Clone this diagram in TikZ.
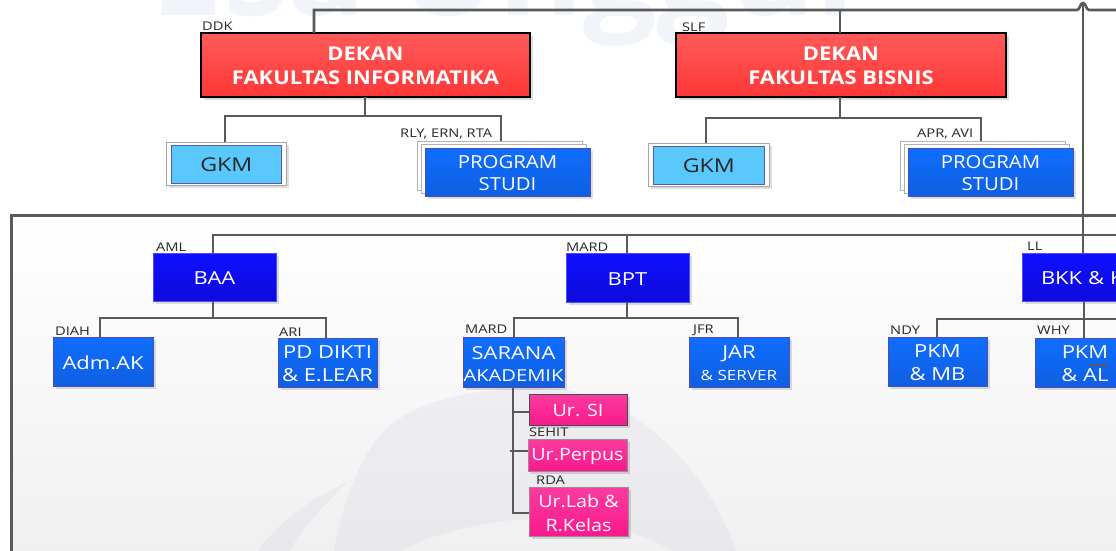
\documentclass[tikz,border=0pt]{standalone}
\usepackage{fontspec}
\setmainfont{Open Sans}
\newfontfamily\stA[FakeStretch=1.13]{Open Sans}
\newfontfamily\stB[FakeStretch=1.22]{Open Sans}
\newfontfamily\stP[FakeStretch=1.16]{Open Sans}
\newfontfamily\stT[FakeStretch=1.22]{Open Sans}
\newfontfamily\stR[FakeStretch=1.155]{Open Sans}
\usetikzlibrary{shadows,calc}
\definecolor{wire}{HTML}{595959}
\definecolor{pale}{HTML}{F1F4F8}
\tikzset{
  x=1pt,y=-1pt,
  wirelink/.style={draw=wire,line width=2.8pt,line join=miter},
  thinlink/.style={draw=wire,line width=2.6pt},
  softshadow/.style={drop shadow={shadow xshift=3pt,shadow yshift=-3pt,fill=black,opacity=.13}},
  basebox/.style={anchor=north west,inner sep=0pt,outer sep=0pt,align=center,text=white,softshadow,
    minimum width=#1},
  redbox/.style={draw=black,line width=1.4pt,top color={rgb,255:red,255;green,90;blue,90},bottom color={rgb,255:red,255;green,55;blue,55},
    font=\fontsize{19}{24}\selectfont\stR\bfseries},
  navybox/.style={draw=blue!70!white,line width=.4pt,top color={rgb,255:red,15;green,15;blue,255},bottom color={rgb,255:red,15;green,10;blue,220},
    font=\fontsize{18}{22}\selectfont\stB},
  bluebox/.style={draw=blue!40!gray,line width=.6pt,top color={rgb,255:red,15;green,110;blue,255},bottom color={rgb,255:red,15;green,95;blue,225},
    font=\fontsize{18}{23}\selectfont\stB},
  progbox/.style={bluebox,font=\fontsize{18}{22}\selectfont\stA},
  pinkbox/.style={draw=gray!80!magenta,line width=.6pt,top color={rgb,255:red,250;green,60;blue,160},bottom color={rgb,255:red,250;green,25;blue,140},
    font=\fontsize{17}{24}\selectfont\stP},
  gkmouter/.style={draw=gray!70,line width=.7pt,fill=white,softshadow},
  gkminner/.style={draw=gray!70!blue,line width=.6pt,top color={rgb,255:red,90;green,200;blue,250},bottom color={rgb,255:red,90;green,200;blue,255},
    text=black!85,font=\fontsize{19}{24}\selectfont\stB,inner sep=0pt},
  pagebox/.style={draw=gray!60,line width=.6pt,fill=white},
  tag/.style={inner sep=0pt,anchor=west,text=black!85,font=\fontsize{12}{14}\selectfont\stT},
}
\newcommand{\dn}[1]{\raisebox{-1.5pt}[\height][\depth]{#1}}
\newcommand{\dnr}[1]{\raisebox{-.5pt}[\height][\depth]{#1}}
\begin{document}
\begin{tikzpicture}
\useasboundingbox (0,0) rectangle (1116,551);
\clip (0,0) rectangle (1116,551);
% watermark above the panel
\node[anchor=base west,inner sep=0pt,text=pale,font=\fontsize{130}{130}\selectfont\bfseries] (mark) at (150,16) {Esa Unggul};
% panel
\path[top color=white,bottom color=black!6] (11,215) rectangle (1130,560);
\fill[blue!35!gray,opacity=.055] (334,551) .. controls (345,490) and (365,450) .. (385,430) .. controls (420,395) and (500,385) .. (557,389) .. controls (620,395) and (700,450) .. (736,551) -- (673,551) .. controls (640,530) and (560,510) .. (490,523) .. controls (450,530) and (420,540) .. (400,551) -- cycle;
\fill[blue!35!gray,opacity=.055] (258,551) .. controls (280,520) and (310,500) .. (347,482) .. controls (320,510) and (300,530) .. (290,551) -- cycle;
\draw[draw=wire,line width=3pt] (11,560) -- (11,215) -- (1130,215);

% coordinates for free wire ends
\coordinate (topL) at (314,10);
\coordinate (topR) at (1116,10);
\coordinate (hopL) at (1077,10);
\coordinate (hopR) at (1089,10);
\coordinate (hopTop) at (1083,3);
\coordinate (midR) at (1116,235);
\coordinate (bkkR) at (1116,319);

% top row
\node[basebox=329pt,redbox,minimum height=64pt] (dekanA) at (201,33) {\dnr{DEKAN}\\\dnr{FAKULTAS INFORMATIKA}};
\node[basebox=330pt,redbox,minimum height=64pt] (dekanB) at (676,33) {\dnr{DEKAN}\\\dnr{FAKULTAS BISNIS}};

\node[gkmouter,anchor=north west,minimum width=120pt,minimum height=43pt,inner sep=0pt] (gkmAo) at (166,142) {};
\node[gkminner,anchor=north west,minimum width=110pt,minimum height=38pt] (gkmA) at (171,145) {GKM};
\node[gkmouter,anchor=north west,minimum width=121pt,minimum height=43pt,inner sep=0pt] (gkmBo) at (648,143) {};
\node[gkminner,anchor=north west,minimum width=111pt,minimum height=38pt] (gkmB) at (653,146) {GKM};

\node[pagebox,anchor=north west,minimum width=165pt,minimum height=49pt,inner sep=0pt] (psA3) at (417,141) {};
\node[pagebox,anchor=north west,minimum width=165pt,minimum height=49pt,inner sep=0pt] (psA2) at (421,144) {};
\node[basebox=165pt,progbox,minimum height=48pt] (psA) at (425,148) {\dn{PROGRAM}\\\dn{STUDI}};
\node[pagebox,anchor=north west,minimum width=165pt,minimum height=49pt,inner sep=0pt] (psB3) at (900,141) {};
\node[pagebox,anchor=north west,minimum width=165pt,minimum height=49pt,inner sep=0pt] (psB2) at (904,144) {};
\node[basebox=165pt,progbox,minimum height=48pt] (psB) at (908,148) {\dn{PROGRAM}\\\dn{STUDI}};

% middle row
\node[basebox=123pt,navybox,minimum height=48pt] (baa) at (153,253) {\dn{BAA}};
\node[basebox=123pt,navybox,minimum height=49pt] (bpt) at (566,253) {\dn{BPT}};
\node[basebox=123pt,navybox,minimum height=48pt,anchor=north west,align=left,text width=115pt] (bkk) at (1022,253) {\hspace*{15pt}\dn{BKK \& K}};

\node[basebox=100pt,bluebox,minimum height=49pt] (adm) at (53,337) {\dn{Adm.AK}};
\node[basebox=99pt,bluebox,minimum height=49pt] (pd) at (278,338) {\dn{PD DIKTI}\\\dn{\& E.LEAR}};
\node[basebox=101pt,bluebox,minimum height=50pt] (sarana) at (463,337) {\dn{SARANA}\\[-1pt]\dn{\fontsize{16.5}{20}\selectfont AKADEMIK}};
\node[basebox=100pt,bluebox,minimum height=50pt] (jar) at (689,337) {\dn{JAR}\\[-1pt]\dn{\fontsize{14}{18}\selectfont \& SERVER}};
\node[basebox=99pt,bluebox,minimum height=49pt] (pkmMB) at (888,337) {\dn{PKM}\\\dn{\& MB}};
\node[basebox=100pt,bluebox,minimum height=49pt] (pkmAL) at (1035,338) {\dn{PKM}\\\dn{\& AL}};

\node[basebox=98pt,pinkbox,minimum height=31pt,draw=black!70] (si) at (529,394) {\dnr{Ur. SI}};
\node[basebox=99pt,pinkbox,minimum height=32pt] (perpus) at (528,439) {\dn{Ur.Perpus}};
\node[basebox=99pt,pinkbox,minimum height=49pt] (lab) at (529,487) {\dn{Ur.Lab \&}\\\dn{R.Kelas}};

% connectors
\draw[thinlink] (dekanA.north -| topL) -- (topL) -- (hopL) .. controls (1080,10) and (1080,3) .. (hopTop) .. controls (1086,3) and (1086,10) .. (hopR) -- (topR);
\draw[thinlink] (840,10) -- (840,33);
\draw[wirelink] (365,97) -- (365,116);
\draw[wirelink] (225,142) -- (225,116) -- (501,116) -- (501,141);
\draw[wirelink] (840,97) -- (840,118);
\draw[wirelink] (706,143) -- (706,118) -- (981,118) -- (981,141);
\draw[thinlink] (hopTop) -- (bkk.north -| hopTop);
\draw[thinlink] (213,253) -- (213,235) -- (midR);
\draw[thinlink] (627,235) -- (627,253);
\draw[wirelink] (213,301) -- (213,318);
\draw[wirelink] (100,337) -- (100,318) -- (326,318) -- (326,338);
\draw[wirelink] (627,302) -- (627,318);
\draw[wirelink] (514,337) -- (514,318) -- (738,318) -- (738,337);
\draw[wirelink] (1084,301) -- (1084,338);
\draw[wirelink] (937,337) -- (937,319) -- (bkkR);
\draw[wirelink] (513,387) -- (513,513) -- (529,513);
\draw[wirelink] (513,412) -- (529,412);
\draw[wirelink] (510,451) -- (528,451);
\draw[draw=wire,line width=1.8pt] (1090,365) -- (1108,365);

% tags
\node[tag] (tDDK) at (202,26) {DDK};
\node[tag] (tSLF) at (682,27) {SLF};
\node[tag] (tRLY) at (400,134) {RLY, ERN, RTA};
\node[tag] (tAPR) at (917,134) {APR, AVI};
\node[tag] (tAML) at (156,247) {AML};
\node[tag] (tMARD) at (566,247) {MARD};
\node[tag] (tLL) at (1027,246) {LL};
\node[tag] (tDIAH) at (55,331) {DIAH};
\node[tag] (tARI) at (279,332) {ARI};
\node[tag] (tMARDb) at (465,329) {MARD};
\node[tag] (tJFR) at (693,330) {JFR};
\node[tag] (tNDY) at (890,330) {NDY};
\node[tag] (tWHY) at (1037,330) {WHY};
\node[tag] (tSEHIT) at (529,432) {SEHIT};
\node[tag] (tRDA) at (536,480) {RDA};
\end{tikzpicture}
\end{document}
